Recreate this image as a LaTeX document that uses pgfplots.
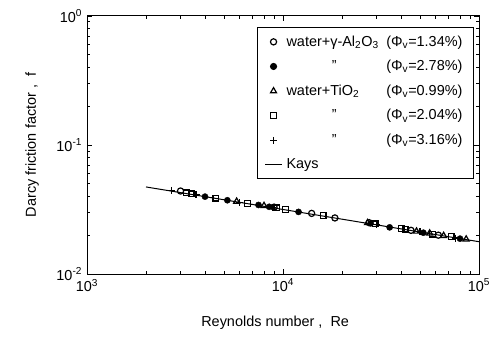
\documentclass[border=0pt]{standalone}
\usepackage{pgfplots}
\pgfplotsset{compat=1.18}
\usepackage{fontspec}
\setmainfont{Liberation Sans}
\newcommand{\nm}[1]{\makebox[6.6em][l]{#1}}
\newcommand{\vl}[1]{\makebox[5.3em][r]{(Φ\textsubscript{v}=#1\%)}}
\begin{document}
\fontsize{14.5}{17}\selectfont
\begin{tikzpicture}
\begin{axis}[
  scale only axis, width=392bp, height=258bp,
  xmode=log, ymode=log, xmin=1000, xmax=100000, ymin=0.01, ymax=1,
  xtick={1000,10000,100000},
  xticklabels={10\textsuperscript{3},10\textsuperscript{4},10\textsuperscript{5}},
  ytick={0.01,0.1,1},
  yticklabels={10\textsuperscript{-2},10\textsuperscript{-1},10\textsuperscript{0}},
  tick label style={font=\fontsize{14.5}{17}\selectfont},
  major tick length=5bp, minor tick length=3bp,
  axis line style={line width=1bp},
  every tick/.style={black, line width=0.8bp},
  xlabel={Reynolds number ,\ \ Re},
  ylabel={Darcy friction factor , \ f},
  label style={font=\fontsize{14.5}{17}\selectfont},
  xlabel style={at={(axis description cs:0.48,-0.19)}, anchor=center},
  ylabel style={at={(axis description cs:-0.14,0.5)}, anchor=center},
  legend style={at={(0.987,0.957)}, anchor=north east, draw=black, line width=0.9bp,
    font=\fontsize{14.5}{17}\selectfont, row sep=8bp, inner xsep=7bp, inner ysep=6bp,
    nodes={inner xsep=4bp}},
  legend cell align=left,
]
\addplot[only marks, mark=o, mark size=3.1pt, line width=1.2bp] coordinates {
(3000,0.0440) (9000,0.0330) (14000,0.0295) (18400,0.0272) (27500,0.0250) (45000,0.0218) (62000,0.0200)};
\addlegendentry{\nm{water+γ-Al\textsubscript{2}O\textsubscript{3}} \vl{1.34}}
\addplot[only marks, mark=*, mark size=3.1pt, fill=black] coordinates {
(4000,0.0398) (5200,0.0373) (7500,0.0343) (8500,0.0332) (12000,0.0303) (28000,0.0247) (35000,0.0230) (52000,0.0209) (80000,0.0188)};
\addlegendentry{\nm{\hfill"\hfill} \vl{2.78}}
\addplot[only marks, mark=triangle, mark size=3.5pt, line width=1.2bp] coordinates {
(5800,0.0365) (8000,0.0338) (27000,0.0249) (48000,0.0214) (56000,0.0207) (66000,0.0198) (86000,0.0186)};
\addlegendentry{\nm{water+TiO\textsubscript{2}} \vl{0.99}}
\addplot[only marks, mark=square, mark size=2.9pt, line width=1.2bp] coordinates {
(3200,0.0425) (3400,0.0418) (4550,0.0388) (6600,0.0353) (9300,0.0325) (10300,0.0316) (16000,0.0283) (29500,0.0245) (40000,0.0225) (42000,0.0223) (58000,0.0204) (72000,0.0195)};
\addlegendentry{\nm{\hfill"\hfill} \vl{2.04}}
\addplot[only marks, mark=+, mark size=3.5pt, line width=1.2bp] coordinates {
(2700,0.0445) (3600,0.0412) (6000,0.0360) (8800,0.0328) (30000,0.0242) (50000,0.0212) (76000,0.0190)};
\addlegendentry{\nm{\hfill"\hfill} \vl{3.16}}
\addplot[black, line width=1bp] coordinates {(2000,0.0473) (100000,0.0178)};
\addlegendentry{Kays}
\end{axis}
\path (current axis.south west) +(-87bp,-64bp) coordinate (bl);
\path (current axis.north east) +(16bp,16bp) coordinate (tr);
\path (bl) (tr);
\end{tikzpicture}
\end{document}
